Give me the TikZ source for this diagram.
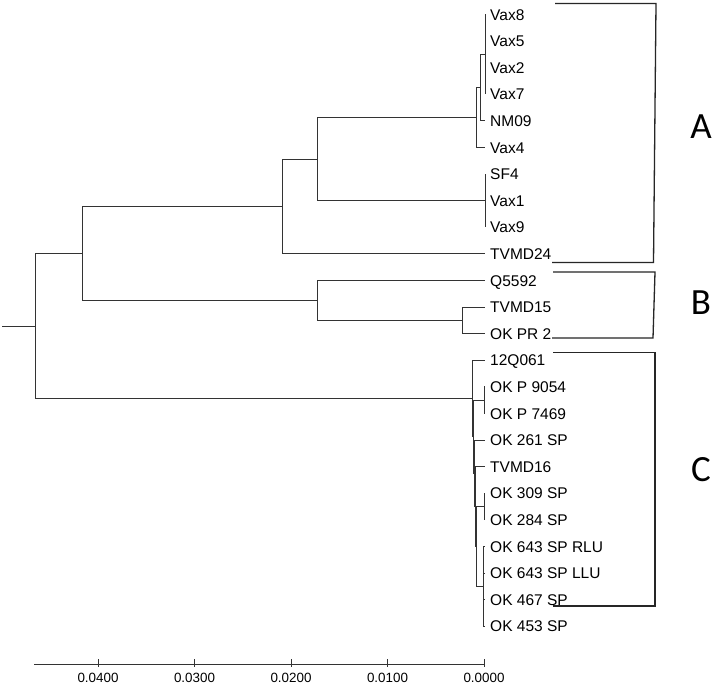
\documentclass[tikz,border=0pt]{standalone}
\usepackage{fontspec}
\setmainfont{Liberation Sans}
\newfontfamily\calib{Carlito}
\begin{document}
\begin{tikzpicture}[x=1pt,y=-1pt,
  edge/.style={line width=0.9pt, draw=black!80},
  brk/.style={line width=1.3pt, draw=black!85},
  leaf/.style={anchor=west, inner sep=0pt, font=\fontsize{15.5}{16}\selectfont, text height=11.1pt, text depth=0pt},
  ticklab/.style={anchor=center, inner sep=0pt, font=\fontsize{13.4}{14}\selectfont, text height=9.6pt, text depth=0pt},
  grp/.style={anchor=center, inner sep=0pt, font=\calib\fontsize{37}{37}\selectfont, text height=24pt, text depth=0pt}]
\fill[white] (0,0) rectangle (714,684);
\useasboundingbox (0,0) rectangle (714,684);

% leaves
\foreach [count=\i from 0] \nm in {Vax8,Vax5,Vax2,Vax7,NM09,Vax4,SF4,Vax1,Vax9,TVMD24,Q5592,TVMD15,OK PR 2,12Q061,OK P 9054,OK P 7469,OK 261 SP,TVMD16,OK 309 SP,OK 284 SP,OK 643 SP RLU,OK 643 SP LLU,OK 467 SP,OK 453 SP}{
  \coordinate (l\i) at (485,{14.5+26.6*\i});
  \node[leaf] (t\i) at (490,{14.5+26.6*\i}) {\nm};
}

% internal nodes
\coordinate (a1) at (485,54.4);
\coordinate (a2) at (480.7,87.65);
\coordinate (a3) at (476.7,117.6);
\coordinate (a4) at (485,200.7);
\coordinate (a5) at (317,159.15);
\coordinate (a6) at (282,206.5);
\coordinate (b1) at (462,320.4);
\coordinate (b2) at (317,300.45);
\coordinate (ab) at (82,253.5);
\coordinate (c1) at (484,400.2);
\coordinate (c2) at (484,506.6);
\coordinate (c3) at (483,586.4);
\coordinate (c4) at (476.7,546.5);
\coordinate (c5) at (475.7,506.6);
\coordinate (c6) at (474.7,473.35);
\coordinate (c7) at (473.7,436.8);
\coordinate (c8) at (472.7,398.5);
\coordinate (root) at (35,326);
\coordinate (r0) at (2,326);

% clade A
\draw[edge] (a1) |- (l0) (a1) |- (l3);
\draw[edge] (a2) |- (a1) (a2) |- (l4);
\draw[edge] (a3) |- (a2) (a3) |- (l5);
\draw[edge] (a4) |- (l6) (a4) |- (l8);
\draw[edge] (a5) |- (a3) (a5) |- (a4);
\draw[edge] (a6) |- (a5) (a6) |- (l9);
% clade B
\draw[edge] (b1) |- (l11) (b1) |- (l12);
\draw[edge] (b2) |- (l10) (b2) |- (b1);
\draw[edge] (ab) |- (a6) (ab) |- (b2);
% clade C
\draw[edge] (c1) |- (l14) (c1) |- (l15);
\draw[edge] (c2) |- (l18) (c2) |- (l19);
\draw[edge] (c3) |- (l20) (c3) |- (l23) (c3) |- (l21) (c3) |- (l22);
\draw[edge] (c4) |- (c2) (c4) |- (c3);
\draw[edge] (c5) |- (l17) (c5) |- (c4);
\draw[edge] (c6) |- (l16) (c6) |- (c5);
\draw[edge] (c7) |- (c1) (c7) |- (c6);
\draw[edge] (c8) |- (l13) (c8) |- (c7);
% root
\draw[edge] (root) |- (ab) (root) |- (c8);
\draw[edge] (r0) -- (root);

% axis
\coordinate (ax0) at (34,664);
\coordinate (ax1) at (484,664);
\draw[edge] (ax0) -- (ax1);
\foreach [count=\k from 0] \lab/\xx in {0.0400/98,0.0300/194.5,0.0200/291,0.0100/387.5,0.0000/484}{
  \coordinate (tk\k) at (\xx,659);
  \coordinate (tb\k) at (\xx,667);
  \draw[edge] (tk\k) -- (tb\k);
  \node[ticklab] (tl\k) at (\xx,677.5) {\lab};
}

% brackets
\draw[brk] (555,3.5) -- (656,3.5) -- (653.5,262.5) -- (552,262.5);
\draw[brk] (553,272) -- (655,272) -- (653,338) -- (552,338);
\draw[brk] (553,352.5) -- (655,352.5) -- (655,606) -- (553,606);

\node[grp] (gA) at (701,127) {A};
\node[grp] (gB) at (701,302.5) {B};
\node[grp] (gC) at (701,469.5) {C};
\end{tikzpicture}
\end{document}
